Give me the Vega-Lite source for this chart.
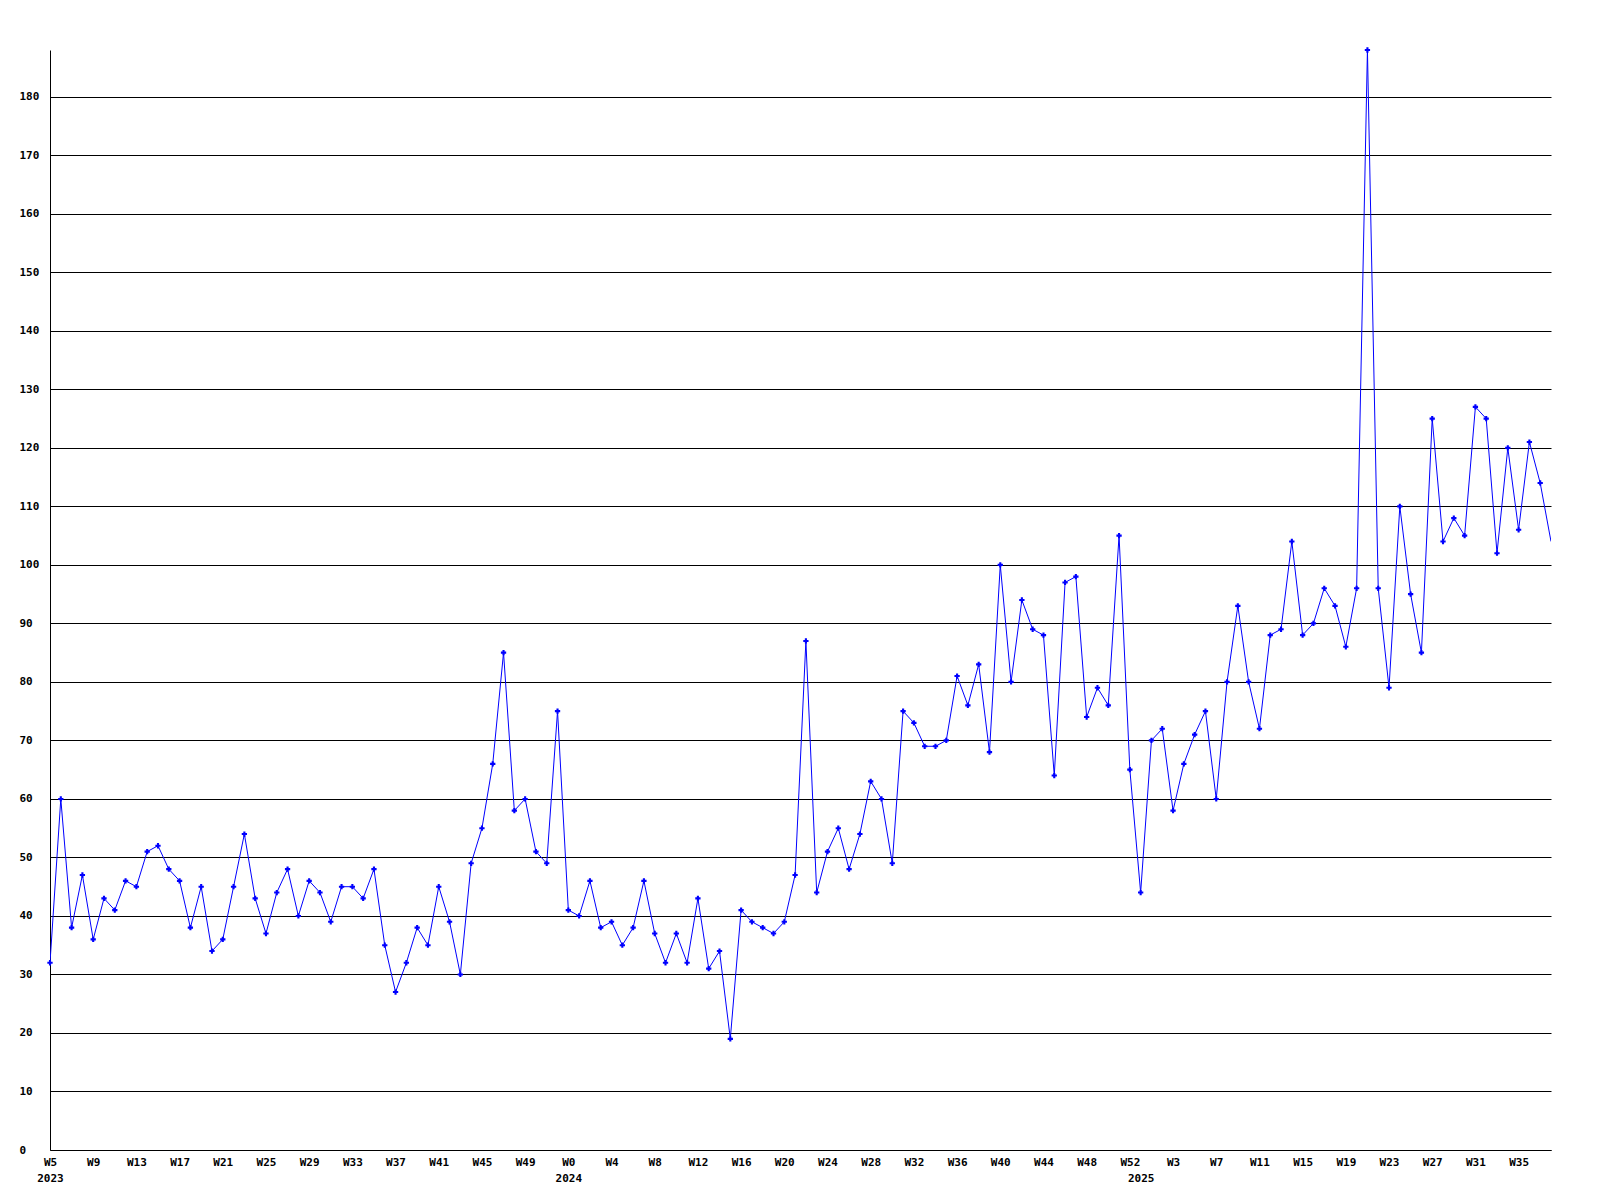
{
  "$schema": "https://vega.github.io/schema/vega-lite/v6.json",
  "width": 1501,
  "height": 1100,
  "autosize": {"type": "none"},
  "padding": {"left": 50, "top": 50, "right": 49, "bottom": 50},
  "background": "white",
  "config": {
    "view": {"stroke": null},
    "axis": {"labelFont": "DejaVu Sans Mono", "labelFontWeight": "bold", "labelFontSize": 11, "labelColor": "black", "domainColor": "black", "domainWidth": 1}
  },
  "data": {"values": [
    {"i":0,"year":2023,"week":"W5","value":32},{"i":1,"year":2023,"week":"W6","value":60},{"i":2,"year":2023,"week":"W7","value":38},{"i":3,"year":2023,"week":"W8","value":47},
    {"i":4,"year":2023,"week":"W9","value":36},{"i":5,"year":2023,"week":"W10","value":43},{"i":6,"year":2023,"week":"W11","value":41},{"i":7,"year":2023,"week":"W12","value":46},
    {"i":8,"year":2023,"week":"W13","value":45},{"i":9,"year":2023,"week":"W14","value":51},{"i":10,"year":2023,"week":"W15","value":52},{"i":11,"year":2023,"week":"W16","value":48},
    {"i":12,"year":2023,"week":"W17","value":46},{"i":13,"year":2023,"week":"W18","value":38},{"i":14,"year":2023,"week":"W19","value":45},{"i":15,"year":2023,"week":"W20","value":34},
    {"i":16,"year":2023,"week":"W21","value":36},{"i":17,"year":2023,"week":"W22","value":45},{"i":18,"year":2023,"week":"W23","value":54},{"i":19,"year":2023,"week":"W24","value":43},
    {"i":20,"year":2023,"week":"W25","value":37},{"i":21,"year":2023,"week":"W26","value":44},{"i":22,"year":2023,"week":"W27","value":48},{"i":23,"year":2023,"week":"W28","value":40},
    {"i":24,"year":2023,"week":"W29","value":46},{"i":25,"year":2023,"week":"W30","value":44},{"i":26,"year":2023,"week":"W31","value":39},{"i":27,"year":2023,"week":"W32","value":45},
    {"i":28,"year":2023,"week":"W33","value":45},{"i":29,"year":2023,"week":"W34","value":43},{"i":30,"year":2023,"week":"W35","value":48},{"i":31,"year":2023,"week":"W36","value":35},
    {"i":32,"year":2023,"week":"W37","value":27},{"i":33,"year":2023,"week":"W38","value":32},{"i":34,"year":2023,"week":"W39","value":38},{"i":35,"year":2023,"week":"W40","value":35},
    {"i":36,"year":2023,"week":"W41","value":45},{"i":37,"year":2023,"week":"W42","value":39},{"i":38,"year":2023,"week":"W43","value":30},{"i":39,"year":2023,"week":"W44","value":49},
    {"i":40,"year":2023,"week":"W45","value":55},{"i":41,"year":2023,"week":"W46","value":66},{"i":42,"year":2023,"week":"W47","value":85},{"i":43,"year":2023,"week":"W48","value":58},
    {"i":44,"year":2023,"week":"W49","value":60},{"i":45,"year":2023,"week":"W50","value":51},{"i":46,"year":2023,"week":"W51","value":49},{"i":47,"year":2023,"week":"W52","value":75},
    {"i":48,"year":2024,"week":"W0","value":41},{"i":49,"year":2024,"week":"W1","value":40},{"i":50,"year":2024,"week":"W2","value":46},{"i":51,"year":2024,"week":"W3","value":38},
    {"i":52,"year":2024,"week":"W4","value":39},{"i":53,"year":2024,"week":"W5","value":35},{"i":54,"year":2024,"week":"W6","value":38},{"i":55,"year":2024,"week":"W7","value":46},
    {"i":56,"year":2024,"week":"W8","value":37},{"i":57,"year":2024,"week":"W9","value":32},{"i":58,"year":2024,"week":"W10","value":37},{"i":59,"year":2024,"week":"W11","value":32},
    {"i":60,"year":2024,"week":"W12","value":43},{"i":61,"year":2024,"week":"W13","value":31},{"i":62,"year":2024,"week":"W14","value":34},{"i":63,"year":2024,"week":"W15","value":19},
    {"i":64,"year":2024,"week":"W16","value":41},{"i":65,"year":2024,"week":"W17","value":39},{"i":66,"year":2024,"week":"W18","value":38},{"i":67,"year":2024,"week":"W19","value":37},
    {"i":68,"year":2024,"week":"W20","value":39},{"i":69,"year":2024,"week":"W21","value":47},{"i":70,"year":2024,"week":"W22","value":87},{"i":71,"year":2024,"week":"W23","value":44},
    {"i":72,"year":2024,"week":"W24","value":51},{"i":73,"year":2024,"week":"W25","value":55},{"i":74,"year":2024,"week":"W26","value":48},{"i":75,"year":2024,"week":"W27","value":54},
    {"i":76,"year":2024,"week":"W28","value":63},{"i":77,"year":2024,"week":"W29","value":60},{"i":78,"year":2024,"week":"W30","value":49},{"i":79,"year":2024,"week":"W31","value":75},
    {"i":80,"year":2024,"week":"W32","value":73},{"i":81,"year":2024,"week":"W33","value":69},{"i":82,"year":2024,"week":"W34","value":69},{"i":83,"year":2024,"week":"W35","value":70},
    {"i":84,"year":2024,"week":"W36","value":81},{"i":85,"year":2024,"week":"W37","value":76},{"i":86,"year":2024,"week":"W38","value":83},{"i":87,"year":2024,"week":"W39","value":68},
    {"i":88,"year":2024,"week":"W40","value":100},{"i":89,"year":2024,"week":"W41","value":80},{"i":90,"year":2024,"week":"W42","value":94},{"i":91,"year":2024,"week":"W43","value":89},
    {"i":92,"year":2024,"week":"W44","value":88},{"i":93,"year":2024,"week":"W45","value":64},{"i":94,"year":2024,"week":"W46","value":97},{"i":95,"year":2024,"week":"W47","value":98},
    {"i":96,"year":2024,"week":"W48","value":74},{"i":97,"year":2024,"week":"W49","value":79},{"i":98,"year":2024,"week":"W50","value":76},{"i":99,"year":2024,"week":"W51","value":105},
    {"i":100,"year":2024,"week":"W52","value":65},
    {"i":101,"year":2025,"week":"W0","value":44},{"i":102,"year":2025,"week":"W1","value":70},{"i":103,"year":2025,"week":"W2","value":72},{"i":104,"year":2025,"week":"W3","value":58},
    {"i":105,"year":2025,"week":"W4","value":66},{"i":106,"year":2025,"week":"W5","value":71},{"i":107,"year":2025,"week":"W6","value":75},{"i":108,"year":2025,"week":"W7","value":60},
    {"i":109,"year":2025,"week":"W8","value":80},{"i":110,"year":2025,"week":"W9","value":93},{"i":111,"year":2025,"week":"W10","value":80},{"i":112,"year":2025,"week":"W11","value":72},
    {"i":113,"year":2025,"week":"W12","value":88},{"i":114,"year":2025,"week":"W13","value":89},{"i":115,"year":2025,"week":"W14","value":104},{"i":116,"year":2025,"week":"W15","value":88},
    {"i":117,"year":2025,"week":"W16","value":90},{"i":118,"year":2025,"week":"W17","value":96},{"i":119,"year":2025,"week":"W18","value":93},{"i":120,"year":2025,"week":"W19","value":86},
    {"i":121,"year":2025,"week":"W20","value":96},{"i":122,"year":2025,"week":"W21","value":188},{"i":123,"year":2025,"week":"W22","value":96},{"i":124,"year":2025,"week":"W23","value":79},
    {"i":125,"year":2025,"week":"W24","value":110},{"i":126,"year":2025,"week":"W25","value":95},{"i":127,"year":2025,"week":"W26","value":85},{"i":128,"year":2025,"week":"W27","value":125},
    {"i":129,"year":2025,"week":"W28","value":104},{"i":130,"year":2025,"week":"W29","value":108},{"i":131,"year":2025,"week":"W30","value":105},{"i":132,"year":2025,"week":"W31","value":127},
    {"i":133,"year":2025,"week":"W32","value":125},{"i":134,"year":2025,"week":"W33","value":102},{"i":135,"year":2025,"week":"W34","value":120},{"i":136,"year":2025,"week":"W35","value":106},
    {"i":137,"year":2025,"week":"W36","value":121},{"i":138,"year":2025,"week":"W37","value":114},{"i":139,"year":2025,"week":"W38","value":104}
  ]},
  "encoding": {
    "x": {
      "field": "i", "type": "quantitative",
      "scale": {"domain": [0, 139], "nice": false, "zero": false},
      "axis": {
        "title": null, "grid": false, "ticks": false, "tickSize": 0,
        "values": [0,4,8,12,16,20,24,28,32,36,40,44,48,52,56,60,64,68,72,76,80,84,88,92,96,100,101,104,108,112,116,120,124,128,132,136],
        "labelExpr": "datum.value == 0 ? ['W5', '2023'] : datum.value == 48 ? ['W0', '2024'] : datum.value == 101 ? ['', '2025'] : 'W' + (datum.value < 48 ? datum.value + 5 : datum.value < 101 ? datum.value - 48 : datum.value - 101)",
        "labelAlign": "center", "labelBaseline": "top", "labelPadding": 6, "labelLineHeight": 16,
        "labelOverlap": false, "labelFlush": false, "labelBound": false
      }
    },
    "y": {
      "field": "value", "type": "quantitative",
      "scale": {"domain": [0, 188], "nice": false},
      "axis": {
        "title": null, "values": [0,10,20,30,40,50,60,70,80,90,100,110,120,130,140,150,160,170,180],
        "grid": true, "gridColor": "black", "gridOpacity": 1, "gridWidth": 1,
        "ticks": false, "tickSize": 0, "labelAlign": "left", "labelPadding": 31, "labelBaseline": "middle"
      }
    }
  },
  "layer": [
    {"mark": {"type": "line", "color": "#0000ff", "strokeWidth": 1, "clip": true}},
    {"transform": [{"filter": "datum.i < 139"}], "mark": {"type": "point", "shape": "cross", "filled": true, "size": 28, "color": "#0000ff", "opacity": 1}}
  ]
}
